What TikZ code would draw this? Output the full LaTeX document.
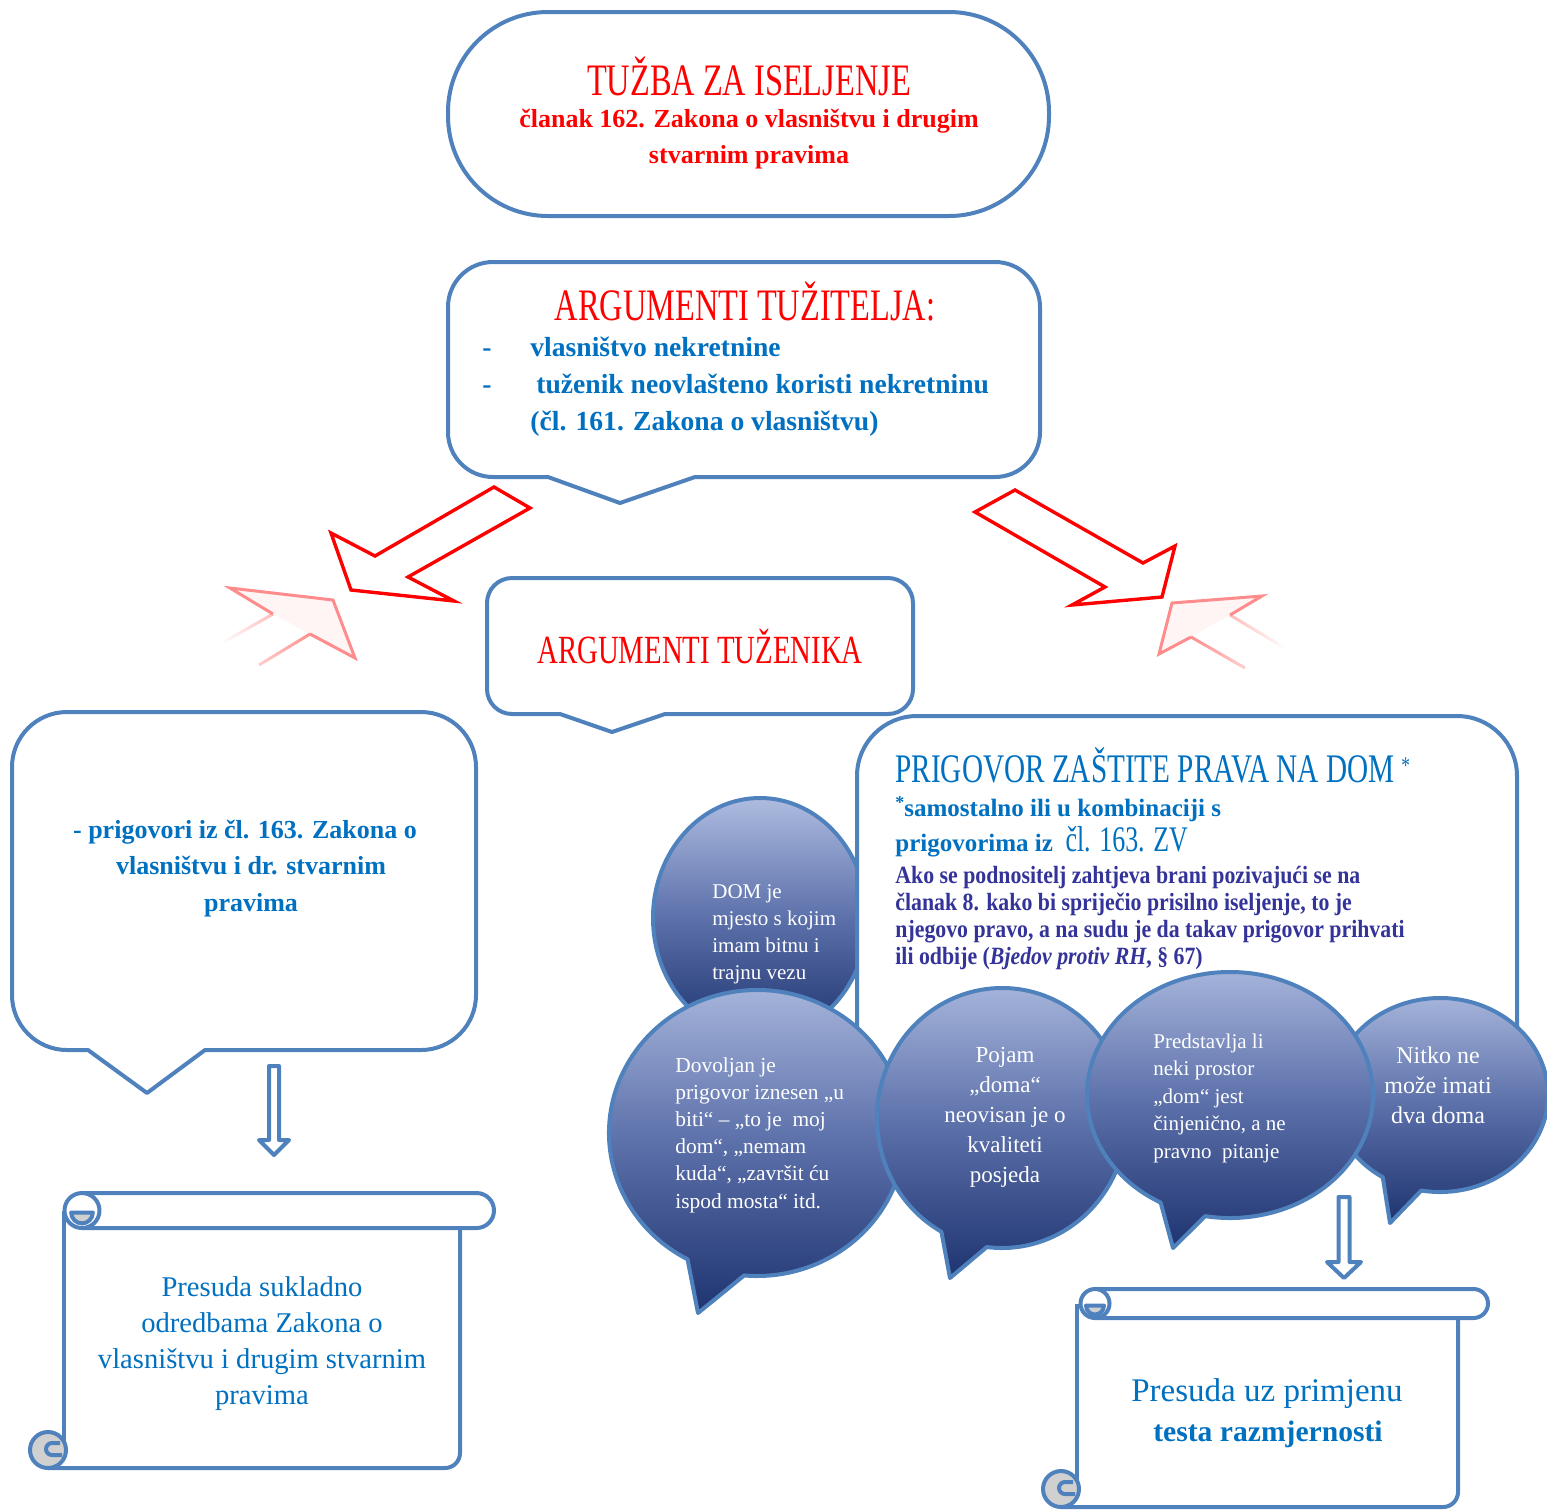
\documentclass[tikz,border=0pt]{standalone}
\usepackage{fontspec}
\setmainfont{Liberation Serif}
\newfontfamily\condf[FakeStretch=0.72]{Liberation Serif}
\newfontfamily\parf[FakeStretch=0.88]{Liberation Serif}
\usetikzlibrary{fadings}
\definecolor{outl}{RGB}{79,129,189}
\definecolor{tblue}{RGB}{0,112,192}
\definecolor{tred}{RGB}{255,0,0}
\definecolor{ppl}{RGB}{51,51,153}
\definecolor{btop}{RGB}{174,188,224}
\definecolor{bmid}{RGB}{92,112,170}
\definecolor{bbot}{RGB}{30,52,112}
\definecolor{curlg}{RGB}{208,208,208}
\tikzfading[name=fadeleft, left color=transparent!100, right color=transparent!0]
\tikzfading[name=faderight, left color=transparent!0, right color=transparent!100]
\newcommand{\myscroll}[6]{%
  \pgfmathsetmacro{\sL}{#1}\pgfmathsetmacro{\sR}{#2}\pgfmathsetmacro{\sT}{#3}%
  \pgfmathsetmacro{\sB}{#4}\pgfmathsetmacro{\sE}{#5}\pgfmathsetmacro{\sY}{#6}%
  \pgfmathsetmacro{\sr}{(\sB-\sT)/2}%
  \fill[white] (\sL,\sT+\sr) -- (\sL,\sY) -- (\sR-15,\sY) arc[start angle=90,end angle=0,radius=15] -- (\sR,\sB) -- cycle;
  \draw[scl] (\sR,\sB) -- (\sR,\sY-15) arc[start angle=0,end angle=90,radius=15] -- (\sL-16,\sY);
  \draw[scl] (\sL,\sT+\sr) -- (\sL,\sY-20);
  \filldraw[scl, fill=white] (\sL+18,\sT) -- (\sE-\sr,\sT) arc[start angle=-90,end angle=90,radius=\sr] -- (\sL+18,\sB);
  \filldraw[scl, fill=white] (\sL+18,\sT+\sr) circle[radius=\sr];
  \filldraw[scl, fill=curlg] (\sL+18+0.62*\sr,\sT+\sr+2) -- (\sL+18-0.62*\sr,\sT+\sr+2) arc[start angle=180,end angle=0,radius=0.62*\sr] -- cycle;
  \filldraw[scl, fill=curlg] (\sL-16,\sY-18) circle[radius=18];
  \draw[scl] (\sL-4,\sY-25) -- (\sL-12,\sY-25) arc[start angle=-90,end angle=-270,radius=6] -- (\sL-2,\sY-13);
}
\begin{document}
\begin{tikzpicture}[x=0.5pt,y=-0.5pt, line join=round,
  box/.style={draw=outl, line width=2pt, fill=white},
  scl/.style={draw=outl, line width=2pt},
  bub/.style={draw=outl, line width=2pt, top color=btop, bottom color=bbot, middle color=bmid},
  redarrow/.style={draw=tred, line width=1.7pt, line join=miter, fill=white},
  refl/.style={draw=tred!45, line width=1.5pt, line join=miter},
  hcond/.style={font=\condf\fontsize{22.5}{26}\selectfont, inner sep=0pt, anchor=base},
  bl/.style={text=tblue, font=\bfseries\fontsize{13.8}{16}\selectfont, inner sep=0pt, anchor=base west},
  wt/.style={text=white, inner sep=0pt},
  pp/.style={text=ppl, font=\parf\bfseries\fontsize{12.4}{14}\selectfont, inner sep=0pt, anchor=base west}]
\useasboundingbox (0,0) rectangle (1547,1511);

% ---------- top stadium
\draw[box, rounded corners=50pt] (448,12) rectangle (1049,216);
\node[hcond, text=tred] (t1) at (749,95) {TUŽBA ZA ISELJENJE};
\node[text=tred, font=\bfseries\fontsize{13}{15}\selectfont, inner sep=0pt, anchor=base] (t2) at (749,127) {članak 162. Zakona o vlasništvu i drugim};
\node[text=tred, font=\bfseries\fontsize{13}{15}\selectfont, inner sep=0pt, anchor=base] (t3) at (749,163) {stvarnim pravima};

% ---------- argumenti tuzitelja
\draw[box] (493,262) -- (995,262) arc[start angle=-90,end angle=0,radius=45] -- (1040,432) arc[start angle=0,end angle=90,radius=45] -- (695,477) -- (620,503) -- (548,477) -- (493,477) arc[start angle=90,end angle=180,radius=45] -- (448,307) arc[start angle=180,end angle=270,radius=45] -- cycle;
\node[hcond, text=tred] (at1) at (745,320) {ARGUMENTI TUŽITELJA:};
\node[bl, anchor=base] (d1) at (487,356) {-};
\node[bl] (b1) at (530,356) {vlasništvo nekretnine};
\node[bl, anchor=base] (d2) at (487,393) {-};
\node[bl] (b2) at (536,393) {tuženik neovlašteno koristi nekretninu};
\node[bl] (b3) at (530,430) {(čl. 161. Zakona o vlasništvu)};

% ---------- red arrows
\draw[redarrow] (494,487) -- (530,508) -- (408,577) -- (454,601) -- (351,590) -- (331,533) -- (375,556) -- cycle;
\draw[redarrow] (1015,490) -- (1143,563) -- (1175,546) -- (1162,597) -- (1072,605) -- (1105,587) -- (975,512) -- cycle;
% reflections
\fill[red!4] (273,614) -- (230,588) -- (333,600) -- (355,658) -- (310,634) -- cycle;
\draw[refl] (273,614) -- (230,588) -- (333,600) -- (355,658) -- (310,634);
\draw[refl, path fading=fadeleft] (273,614) -- (222,643) (310,634) -- (259,665);
\fill[red!4] (1230,615) -- (1262,596) -- (1172,603) -- (1159,654) -- (1191,637) -- cycle;
\draw[refl] (1230,615) -- (1262,596) -- (1172,603) -- (1159,654) -- (1191,637);
\draw[refl, path fading=faderight] (1230,615) -- (1285,648) (1191,637) -- (1245,668);

% ---------- argumenti tuzenika
\draw[box] (512,578) -- (888,578) arc[start angle=-90,end angle=0,radius=25] -- (913,689) arc[start angle=0,end angle=90,radius=25] -- (665,714) -- (612,732) -- (560,714) -- (512,714) arc[start angle=90,end angle=180,radius=25] -- (487,603) arc[start angle=180,end angle=270,radius=25] -- cycle;
\node[hcond, text=tred, font=\condf\fontsize{20}{24}\selectfont] (atz) at (700,663) {ARGUMENTI TUŽENIKA};

% ---------- left callout
\draw[box] (67,712) -- (421,712) arc[start angle=-90,end angle=0,radius=55] -- (476,995) arc[start angle=0,end angle=90,radius=55] -- (205,1050) -- (147,1093) -- (88,1050) -- (67,1050) arc[start angle=90,end angle=180,radius=55] -- (12,767) arc[start angle=180,end angle=270,radius=55] -- cycle;
\node[bl, anchor=base, font=\bfseries\fontsize{13}{15}\selectfont] (lp1) at (245,838) {- prigovori iz čl. 163. Zakona o};
\node[bl, anchor=base, font=\bfseries\fontsize{13}{15}\selectfont] (lp2) at (251,874) {vlasništvu i dr. stvarnim};
\node[bl, anchor=base, font=\bfseries\fontsize{13}{15}\selectfont] (lp3) at (251,911) {pravima};

% ---------- down arrows
\coordinate (dl1) at (274,1066);
\coordinate (dl2) at (274,1155);
\draw[scl, fill=white] ([xshift=-2.5pt]dl1) -- ([xshift=2.5pt]dl1) -- (279,1140) -- (289,1140) -- (dl2) -- (259,1140) -- (269,1140) -- cycle;
\coordinate (dr1) at (1344,1197);
\coordinate (dr2) at (1344,1278);
\draw[scl, fill=white] ([xshift=-2.75pt]dr1) -- ([xshift=2.75pt]dr1) -- (1349.5,1262) -- (1361,1262) -- (dr2) -- (1327,1262) -- (1338.5,1262) -- cycle;

% ---------- scrolls
\myscroll{64}{460}{1193}{1228}{494}{1468}
\foreach \t [count=\i] in {Presuda sukladno, odredbama Zakona o, vlasništvu i drugim stvarnim, pravima}
  \node[text=tblue, font=\fontsize{14.3}{16}\selectfont, inner sep=0pt, anchor=base] (ls\i) at (262,{1296+36.3*(\i-1)}) {\t};
\myscroll{1077}{1458}{1289}{1318}{1488}{1507}
\node[text=tblue, font=\fontsize{16.5}{18}\selectfont, inner sep=0pt, anchor=base] (rs1) at (1267,1401) {Presuda uz primjenu};
\node[text=tblue, font=\bfseries\fontsize{14.8}{17}\selectfont, inner sep=0pt, anchor=base] (rs2) at (1268,1441) {testa razmjernosti};

% ---------- DOM bubble (behind)
\path[bub] (760,918) ellipse[x radius=107, y radius=120];
\foreach \t [count=\i] in {DOM je, mjesto s kojim, imam bitnu i, trajnu vezu}
  \node[wt, font=\fontsize{10.5}{12}\selectfont, anchor=base west] (dm\i) at (712,{898+27*(\i-1)}) {\t};

% ---------- prigovor box
\draw[box, rounded corners=30pt] (857,716) rectangle (1517,1110);
\node[text=tblue, font=\condf\fontsize{20.3}{24}\selectfont, inner sep=0pt, anchor=base west] (pg1) at (895,782) {PRIGOVOR ZAŠTITE PRAVA NA DOM\,{\fontsize{12}{12}\selectfont\raisebox{0.35em}{*}}};
\node[bl, font=\bfseries\fontsize{12.5}{14}\selectfont] (pg2) at (895,816) {\raisebox{0.3em}{\fontsize{9}{9}\selectfont*}samostalno ili u kombinaciji s};
\node[bl, font=\bfseries\fontsize{12.5}{14}\selectfont] (pg3) at (895,851) {prigovorima iz\ \ {\mdseries\condf\fontsize{18}{20}\selectfont čl. 163. ZV}};
\node[pp] (pa1) at (895,883) {Ako se podnositelj zahtjeva brani pozivajući se na};
\node[pp] (pa2) at (895,910) {članak 8. kako bi spriječio prisilno iseljenje, to je};
\node[pp] (pa3) at (895,937) {njegovo pravo, a na sudu je da takav prigovor prihvati};
\node[pp] (pa4) at (895,964) {ili odbije (\textit{Bjedov protiv RH}, § 67)};

% ---------- bubbles
\path[bub] ([shift={(757,1133)}]118:148 and 143) arc[start angle=118,end angle=455,x radius=148,y radius=143] -- (698,1313) -- cycle;
\foreach \t [count=\i] in {Dovoljan je, prigovor iznesen „u, biti“ – „to je\ \ moj, {dom“, „nemam}, {kuda“, „završit ću}, ispod mosta“ itd.}
  \node[wt, font=\fontsize{10.7}{12}\selectfont, anchor=base west] (dv\i) at (675,{1072+27.2*(\i-1)}) {\t};

\path[bub] ([shift={(1440,1095)}]122:108 and 97) arc[start angle=122,end angle=460,x radius=108,y radius=97] -- (1390,1223) -- cycle;
\foreach \t [count=\i] in {Nitko ne, može imati, dva doma}
  \node[wt, font=\fontsize{12}{14}\selectfont, anchor=base] (nk\i) at (1438,{1063+30*(\i-1)}) {\t};

\path[bub] ([shift={(1002,1118)}]119:125 and 130) arc[start angle=119,end angle=457,x radius=125,y radius=130] -- (950,1278) -- cycle;
\foreach \t [count=\i] in {Pojam, „doma“, neovisan je o, kvaliteti, posjeda}
  \node[wt, font=\fontsize{11.5}{13}\selectfont, anchor=base] (pj\i) at (1005,{1062+30*(\i-1)}) {\t};

\path[bub] ([shift={(1230,1095)}]119:143 and 123) arc[start angle=119,end angle=460,x radius=143,y radius=123] -- (1173,1248) -- cycle;
\foreach \t [count=\i] in {Predstavlja li, neki prostor, „dom“ jest, {činjenično, a ne}, pravno\ \ pitanje}
  \node[wt, font=\fontsize{10.5}{12}\selectfont, anchor=base west] (pr\i) at (1153,{1048+27.5*(\i-1)}) {\t};
\end{tikzpicture}
\end{document}
